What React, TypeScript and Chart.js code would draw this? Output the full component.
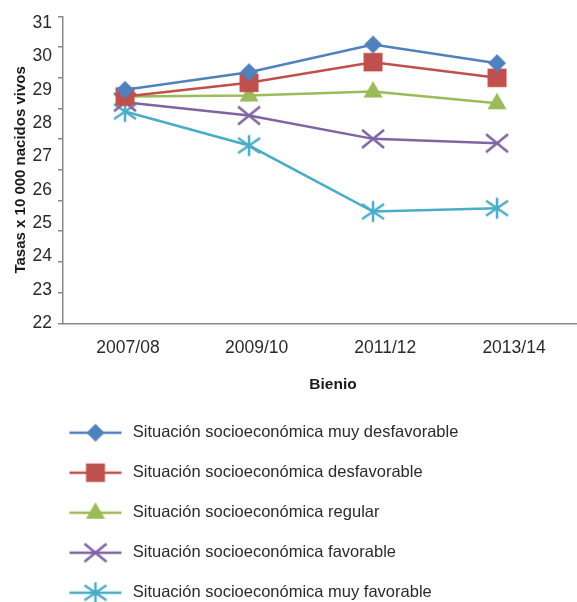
import React, { useEffect, useRef } from 'react';
import { Chart, registerables } from 'chart.js';

Chart.register(...registerables);

// ---------- data ----------
const categories = ['2007/08', '2009/10', '2011/12', '2013/14'];
const seriesNames = [
  'Situación socioeconómica muy desfavorable',
  'Situación socioeconómica desfavorable',
  'Situación socioeconómica regular',
  'Situación socioeconómica favorable',
  'Situación socioeconómica muy favorable',
];
const muyDesfavorable = [29.0, 29.53, 30.36, 29.8];
const desfavorable = [28.8, 29.21, 29.83, 29.36];
const regular = [28.8, 28.83, 28.95, 28.6];
const favorable = [28.63, 28.23, 27.53, 27.4];
const muyFavorable = [28.35, 27.33, 25.35, 25.45];
const yTickLabels = [22, 23, 24, 25, 26, 27, 28, 29, 30, 31];

const seriesValues = [muyDesfavorable, desfavorable, regular, favorable, muyFavorable];
const seriesColors = ['#4F81BD', '#C0504D', '#9BBB59', '#8064A2', '#4BACC6'];
const seriesMarkers = ['diamond', 'square', 'triangle', 'x', 'asterisk'];

const FONT = "'Liberation Sans', Arial, sans-serif";
const TEXT = '#2b2b2b';
const AXIS = '#8a8a8a';

function drawMarker(ctx: CanvasRenderingContext2D, kind: string, cx: number, cy: number, color: string) {
  ctx.fillStyle = color;
  ctx.strokeStyle = color;
  ctx.lineWidth = 2.5;
  ctx.lineCap = 'butt';
  ctx.beginPath();
  if (kind === 'diamond') {
    ctx.moveTo(cx, cy - 9);
    ctx.lineTo(cx + 9, cy);
    ctx.lineTo(cx, cy + 9);
    ctx.lineTo(cx - 9, cy);
    ctx.closePath();
    ctx.fill();
  } else if (kind === 'square') {
    ctx.rect(cx - 9.5, cy - 9.25, 19, 18.5);
    ctx.fill();
  } else if (kind === 'triangle') {
    ctx.moveTo(cx, cy - 10.5);
    ctx.lineTo(cx + 9.5, cy + 6);
    ctx.lineTo(cx - 9.5, cy + 6);
    ctx.closePath();
    ctx.fill();
  } else if (kind === 'x') {
    ctx.moveTo(cx - 11, cy - 9);
    ctx.lineTo(cx + 11, cy + 9);
    ctx.moveTo(cx - 11, cy + 9);
    ctx.lineTo(cx + 11, cy - 9);
    ctx.stroke();
  } else {
    ctx.moveTo(cx, cy - 10.5);
    ctx.lineTo(cx, cy + 10.5);
    ctx.moveTo(cx - 11, cy - 7.5);
    ctx.lineTo(cx + 11, cy + 7.5);
    ctx.moveTo(cx - 11, cy + 7.5);
    ctx.lineTo(cx + 11, cy - 7.5);
    ctx.stroke();
  }
}

function makePointImage(kind: string, color: string) {
  const c = document.createElement('canvas');
  c.width = 28;
  c.height = 28;
  const ctx = c.getContext('2d')!;
  drawMarker(ctx, kind, 14, 14, color);
  return c;
}

function makeLegendImage(kind: string, color: string) {
  const c = document.createElement('canvas');
  c.width = 101;
  c.height = 28;
  const ctx = c.getContext('2d')!;
  ctx.strokeStyle = color;
  ctx.lineWidth = 2.5;
  ctx.beginPath();
  ctx.moveTo(46, 14);
  ctx.lineTo(98, 14);
  ctx.stroke();
  drawMarker(ctx, kind, 72, 14, color);
  return c;
}

export default function App() {
  const canvasRef = useRef<HTMLCanvasElement | null>(null);

  useEffect(() => {
    if (!canvasRef.current) return;
    const pointImages = seriesMarkers.map((m, i) => makePointImage(m, seriesColors[i]));
    const legendImages = seriesMarkers.map((m, i) => makeLegendImage(m, seriesColors[i]));

    const chart = new Chart(canvasRef.current, {
      type: 'line',
      data: {
        datasets: seriesNames.map((name, i) => ({
          label: name,
          data: seriesValues[i].map((v, j) => ({ x: j, y: v })),
          borderColor: seriesColors[i],
          backgroundColor: seriesColors[i],
          borderWidth: 2.5,
          pointStyle: pointImages[i] as any,
          pointRadius: 1,
          pointHoverRadius: 1,
          pointBorderWidth: 0,
          tension: 0,
          xAxisID: 'x',
          yAxisID: 'y',
        })),
      },
      options: {
        animation: false,
        responsive: true,
        maintainAspectRatio: false,
        layout: { padding: { top: 16, left: 0, right: 0, bottom: 0 } },
        plugins: {
          tooltip: { enabled: false },
          legend: {
            position: 'bottom',
            align: 'start',
            labels: {
              usePointStyle: true,
              pointStyleWidth: 101,
              padding: 23.5,
              color: TEXT,
              font: { family: FONT, size: 16.5 },
              generateLabels: (ch: any) =>
                Chart.defaults.plugins.legend.labels
                  .generateLabels(ch)
                  .map((item: any, i: number) => ({ ...item, pointStyle: legendImages[i] })),
            },
          },
        },
        scales: {
          x: { type: 'linear', display: false, min: -0.5, max: 3.855 },
          xl: {
            type: 'linear',
            position: 'bottom',
            min: -0.505,
            max: 3.692,
            afterBuildTicks: (s: any) => {
              s.ticks = categories.map((_, i) => ({ value: i }));
            },
            afterFit: (s: any) => {
              s.height = 77.75;
            },
            ticks: {
              autoSkip: false,
              maxRotation: 0,
              padding: 14,
              color: TEXT,
              font: { family: FONT, size: 17.5 },
              callback: (v: any) => categories[v as number],
            },
            grid: { display: false, drawTicks: false },
            border: { display: true, color: AXIS, width: 1.5 },
            title: {
              display: true,
              text: 'Bienio',
              color: '#1a1a1a',
              font: { family: FONT, size: 15.5, weight: 'bold' },
              padding: { top: 0, bottom: 7 },
            },
          },
          y: {
            type: 'linear',
            position: 'left',
            weight: 1,
            min: 22,
            max: 31.2,
            afterBuildTicks: (s: any) => {
              s.ticks = yTickLabels.map((v) => ({ value: v }));
            },
            afterFit: (s: any) => {
              s.width = 58;
            },
            ticks: {
              autoSkip: false,
              padding: 6,
              color: TEXT,
              font: { family: FONT, size: 17.5 },
            },
            grid: { display: false, drawTicks: false },
            border: { display: false },
            title: {
              display: true,
              text: 'Tasas x 10 000 nacidos vivos',
              color: '#1a1a1a',
              font: { family: FONT, size: 15, weight: 'bold' },
              padding: { top: 12, bottom: 0 },
            },
          },
          yt: {
            type: 'linear',
            position: 'left',
            weight: 0,
            min: 0,
            max: 10,
            ticks: { display: false, stepSize: 1 },
            grid: { display: true, drawOnChartArea: false, drawTicks: true, tickLength: 5, color: AXIS, lineWidth: 1.5 },
            border: { display: true, color: AXIS, width: 1.5 },
          },
        },
      } as any,
    });
    return () => chart.destroy();
  }, []);

  return (
    <div style={{ position: 'fixed', left: 0, top: 0, width: 577, height: 602, overflow: 'hidden', background: '#fff' }}>
      <div style={{ position: 'relative', width: 604.25, height: 611 }}>
        <canvas ref={canvasRef} />
      </div>
    </div>
  );
}
